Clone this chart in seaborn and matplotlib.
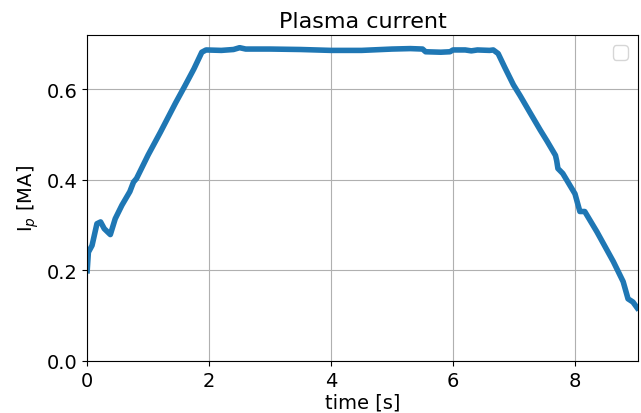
import matplotlib
matplotlib.use("Agg")
import matplotlib.pyplot as plt
import seaborn as sns
import pandas as pd

time_s = [0.00, 0.02, 0.08, 0.16, 0.22, 0.28, 0.38, 0.46, 0.57, 0.70, 0.76, 0.81,
          1.00, 1.20, 1.45, 1.60, 1.75, 1.88, 1.95, 2.20, 2.40, 2.50, 2.60,
          3.00, 3.50, 4.00, 4.50, 5.00, 5.30, 5.50, 5.55, 5.80, 5.95, 6.00,
          6.20, 6.30, 6.40, 6.60, 6.66, 6.74, 6.85, 6.99, 7.10, 7.26, 7.43,
          7.54, 7.68, 7.70, 7.72, 7.80, 8.00, 8.08, 8.16, 8.36, 8.63, 8.79,
          8.87, 8.95, 9.02]
ip_ma = [0.199, 0.240, 0.255, 0.303, 0.307, 0.292, 0.279, 0.314, 0.344, 0.374, 0.395, 0.403,
         0.455, 0.505, 0.570, 0.607, 0.645, 0.682, 0.687, 0.686, 0.688, 0.692, 0.689,
         0.689, 0.688, 0.686, 0.686, 0.689, 0.690, 0.689, 0.683, 0.682, 0.683, 0.687,
         0.687, 0.685, 0.687, 0.686, 0.687, 0.679, 0.648, 0.610, 0.586, 0.549, 0.510,
         0.486, 0.454, 0.442, 0.425, 0.414, 0.369, 0.330, 0.330, 0.285, 0.219, 0.175,
         0.137, 0.130, 0.117]

df = pd.DataFrame({"time": time_s, "Ip": ip_ma})

fig = plt.figure(figsize=(6.41, 4.14), dpi=100)
ax = fig.add_axes([0.136, 0.126, 0.859, 0.787])
sns.lineplot(data=df, x="time", y="Ip", ax=ax, color="#1f77b4", linewidth=4)

ax.set_xlim(0, 9.03)
ax.set_ylim(0, 0.72)
ax.set_xticks([0, 2, 4, 6, 8])
ax.set_yticks([0.0, 0.2, 0.4, 0.6])
ax.tick_params(labelsize=14)
ax.grid(True)
ax.set_xlabel("time [s]", fontsize=14, labelpad=2)
ax.set_ylabel(r"I$_p$ [MA]", fontsize=14)
ax.set_title("Plasma current", fontsize=16)
ax.legend(fontsize=14)

fig.savefig("out.png", dpi=100)
